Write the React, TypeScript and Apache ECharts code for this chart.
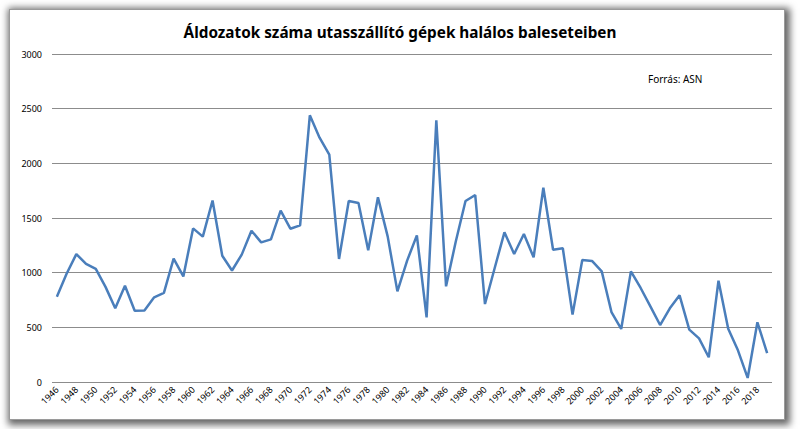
import React, { useEffect, useRef } from "react";
import * as echarts from "echarts";

const years: string[] = [];
for (let y = 1946; y <= 2019; y++) years.push(String(y));

const victims: number[] = [
  780, 990, 1170, 1080, 1035, 870, 675, 880, 652, 655,
  775, 815, 1128, 966, 1405, 1330, 1660, 1155, 1020, 1165,
  1384, 1277, 1305, 1567, 1402, 1433, 2439, 2235, 2079, 1125,
  1655, 1637, 1204, 1689, 1332, 829, 1110, 1341, 591, 2393,
  875, 1285, 1655, 1710, 713, 1043, 1369, 1171, 1354, 1140,
  1777, 1210, 1223, 616, 1116, 1107, 1012, 640, 485, 1012,
  860, 692, 521, 674, 793, 479, 399, 226, 927, 488,
  290, 37, 546, 265,
];

const titleText = "Áldozatok száma utasszállító gépek halálos baleseteiben";
const sourceText = "Forrás: ASN";

export default function App() {
  const ref = useRef<HTMLDivElement>(null);
  useEffect(() => {
    if (!ref.current) return;
    const chart = echarts.init(ref.current, undefined, { renderer: "svg" });
    chart.setOption({
      animation: false,
      backgroundColor: "transparent",
      title: {
        text: titleText,
        left: "center",
        top: 19,
        textStyle: {
          fontFamily: "Noto Sans",
          fontWeight: "bold",
          fontSize: 15.3,
          color: "#000",
        },
      },
      graphic: [
        {
          type: "text",
          left: 648,
          top: 74,
          style: {
            text: sourceText,
            fontFamily: "Noto Sans",
            fontSize: 10,
            fill: "#000",
          },
        },
      ],
      grid: { left: 52, right: 28, top: 54, bottom: 47 },
      xAxis: {
        type: "category",
        data: years,
        boundaryGap: true,
        axisLine: { show: false },
        axisTick: { show: false },
        axisLabel: {
          interval: 1,
          rotate: 45,
          fontFamily: "Noto Sans",
          fontSize: 9,
          color: "#000",
          margin: 6,
        },
      },
      yAxis: {
        type: "value",
        min: 0,
        max: 3000,
        interval: 500,
        axisLine: { show: false },
        axisTick: { show: false },
        axisLabel: {
          fontFamily: "Noto Sans",
          fontSize: 9,
          color: "#000",
          margin: 10,
          formatter: (v: number) => String(v),
        },
        splitLine: { lineStyle: { color: "#8c8c8c", width: 1 } },
      },
      series: [
        {
          type: "line",
          data: victims,
          showSymbol: false,
          symbol: "none",
          lineStyle: { color: "#4a7ebb", width: 2.5 },
        },
      ],
    });
    return () => chart.dispose();
  }, []);
  return (
    <div
      style={{
        position: "fixed",
        left: 0,
        top: 0,
        width: 800,
        height: 429,
        background: "#ffffff",
        overflow: "hidden",
      }}
    >
      <div
        style={{
          position: "absolute",
          left: 9,
          top: 9,
          width: 774,
          height: 409,
          background: "#ffffff",
          border: "1px solid #9a9a9a",
          boxShadow: "2px 2px 7px 3px rgba(0,0,0,0.6)",
        }}
      />
      <div
        ref={ref}
        style={{ position: "absolute", left: 0, top: 0, width: 800, height: 429 }}
      />
    </div>
  );
}
